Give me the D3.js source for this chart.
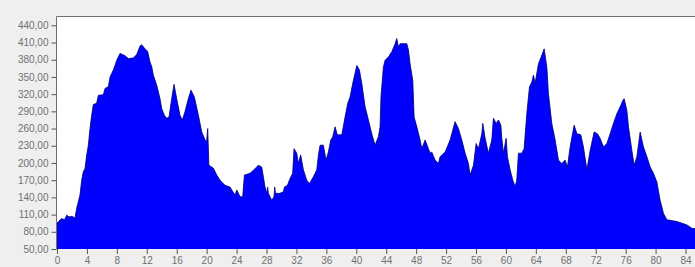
<!DOCTYPE html>
<html><head><meta charset="utf-8">
<script src="https://cdn.jsdelivr.net/npm/d3@7"></script>
<style>html,body{margin:0;padding:0;background:#efefef;overflow:hidden}</style>
</head><body>
<svg id="c" width="695" height="267"></svg>
<script>
const distances = [0,0.6,1.0,1.3,1.6,2.0,2.4,2.63,3.07,3.3,3.52,3.74,3.97,4.19,4.41,4.63,4.86,5.3,5.53,6.19,6.42,6.86,7.09,7.53,7.75,7.98,8.42,9.09,9.54,10.2,10.65,11.1,11.32,11.76,12.1,12.43,12.66,12.88,13.32,13.77,13.99,14.35,14.66,14.97,15.33,15.64,16.0,16.44,16.75,17.1,17.55,17.91,18.36,18.9,19.34,19.79,20.0,20.14,20.3,20.9,21.35,21.79,22.46,23.13,23.35,23.8,24.02,24.47,24.82,25.05,25.8,26.47,26.9,27.36,27.58,27.8,28.03,28.15,28.25,28.7,29.0,29.1,29.2,29.8,30.26,30.4,30.8,31.15,31.5,31.68,32.04,32.26,32.57,32.93,33.38,33.74,34.27,34.72,34.94,35.16,35.6,35.96,36.27,36.59,36.86,37.17,37.47,38.06,38.5,38.86,39.17,39.53,40.07,40.42,40.73,41.18,41.62,42.07,42.51,42.96,43.18,43.3,43.62,43.85,44.3,44.75,45.19,45.41,45.63,45.86,46.75,46.97,47.19,47.55,47.73,48.09,48.53,48.76,49.2,49.64,49.87,50.09,50.53,50.98,51.2,51.87,52.54,53.2,53.65,54.1,54.55,54.99,55.21,55.66,56.02,56.33,56.78,56.91,57.22,57.66,58.11,58.33,58.69,59.0,59.32,59.45,59.67,60.03,60.2,60.56,60.92,61.23,61.45,61.67,62.12,62.43,62.79,63.15,63.46,63.68,63.9,64.35,64.8,65.11,65.47,65.68,66.13,66.58,67.02,67.47,67.91,68.22,68.58,69.12,69.48,70.01,70.36,70.82,71.26,71.79,72.23,72.59,73.04,73.49,73.93,74.37,74.83,75.27,75.63,75.8,76.16,76.38,76.83,77.14,77.5,77.94,78.38,78.84,79.28,79.72,80.17,80.61,81.06,81.51,82.85,83.52,84.19,84.85,85.6];
const elevations = [95,103,101,109,106,107,104,121,144,170,185,190,214,231,260,283,302,304,318,319,330,333,350,362,370,379,391,387,382,383,389,404,406,399,395,376,368,353,336,312,295,283,278,280,312,337,312,283,275,289,312,327,315,283,254,240,237,260,196,191,179,170,161,158,153,144,153,141,141,179,182,190,196,193,176,158,147,158,147,135,141,158,147,147,150,158,161,173,182,225,217,199,214,188,170,164,176,188,214,231,231,205,219,240,246,263,249,249,280,304,315,339,370,362,339,298,275,251,231,246,263,315,367,379,385,394,408,417,402,408,408,397,373,344,280,263,240,225,240,225,217,219,205,199,211,219,240,272,260,240,217,199,179,196,234,225,251,269,243,217,240,278,269,275,266,243,217,243,211,188,170,159,170,217,217,225,286,333,341,353,339,373,388,399,367,321,269,240,205,199,205,193,228,266,251,249,228,188,222,254,251,243,228,234,251,269,286,298,309,312,292,263,222,196,211,254,228,211,193,182,167,135,112,101,98,95,92,86,85];
const xTicks = [0,4,8,12,16,20,24,28,32,36,40,44,48,52,56,60,64,68,72,76,80,84];
const xTickLabels = ["0","4","8","12","16","20","24","28","32","36","40","44","48","52","56","60","64","68","72","76","80","84"];
const yTicks = [50,80,110,140,170,200,230,260,290,320,350,380,410,440];

const data = distances.map((d,i)=>({d, e: elevations[i]}));
const svg = d3.select("#c");
const pL = 57, pR = 700, pT = 17, pB = 249;
const x = d3.scaleLinear().domain([0,84]).range([57,685.5]);
const y = d3.scaleLinear().domain([50,454.5]).range([pB, pT]);

svg.append("rect").attr("width",695).attr("height",267).attr("fill","#efefef");
svg.append("rect").attr("x",pL).attr("y",pT).attr("width",pR-pL).attr("height",pB-pT).attr("fill","#ffffff");

const area = d3.area().x(d=>x(d.d)).y0(pB).y1(d=>y(d.e)).curve(d3.curveLinear);
svg.append("path").datum(data).attr("d",area).attr("fill","#0000ff");
const line = d3.line().x(d=>x(d.d)).y(d=>y(d.e)).curve(d3.curveLinear);
svg.append("path").datum(data).attr("d",line).attr("fill","none").attr("stroke","#000070").attr("stroke-width",0.8);

// frame
svg.append("line").attr("x1",pL-0.5).attr("x2",pR).attr("y1",pT-0.5).attr("y2",pT-0.5).attr("stroke","#707070");
svg.append("line").attr("x1",pL-0.5).attr("x2",pL-0.5).attr("y1",pT-0.5).attr("y2",pB).attr("stroke","#707070");

const yAxis = svg.append("g").attr("transform",`translate(${pL-0.5},0)`)
  .call(d3.axisLeft(y).tickValues(yTicks).tickSize(5).tickPadding(3)
    .tickFormat(v=>d3.format(".2f")(v).replace(".",",")));
const xAxis = svg.append("g").attr("transform",`translate(0,${pB})`)
  .call(d3.axisBottom(x).tickValues(xTicks).tickSize(5).tickPadding(3)
    .tickFormat((v,i)=>xTickLabels[i]));
[yAxis,xAxis].forEach(g=>{
  g.select(".domain").remove();
  g.selectAll(".tick line").attr("stroke","#555");
  g.selectAll("text").attr("fill","#707070").attr("font-family","Liberation Sans, Arial, sans-serif").attr("font-size","10px");
});
</script>
</body></html>
